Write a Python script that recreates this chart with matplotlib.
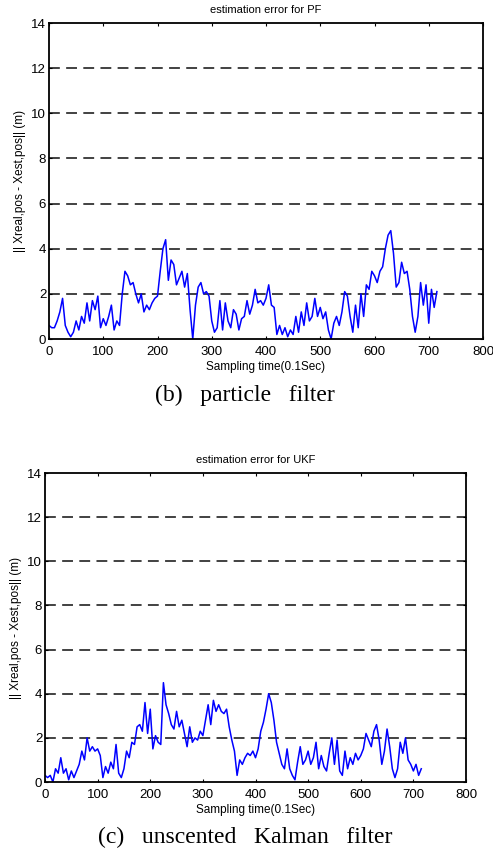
import numpy as np
import matplotlib
matplotlib.use("Agg")
import matplotlib.pyplot as plt

# sampling index (every 5 samples)
t = np.arange(0, 720, 5)

# estimation error, particle filter
err_pf = [0.6, 0.5, 0.5, 0.8, 1.2, 1.8, 0.6, 0.3, 0.1, 0.3, 0.8, 0.4, 1.0, 0.7, 1.6, 0.8,
          1.7, 1.3, 1.9, 0.5, 0.9, 0.6, 1.0, 1.5, 0.4, 0.8, 0.6, 2.0, 3.0, 2.8, 2.4, 2.5,
          2.0, 1.6, 2.0, 1.2, 1.5, 1.3, 1.6, 1.8, 1.9, 3.0, 4.0, 4.4, 2.6, 3.5, 3.3, 2.4,
          2.7, 3.0, 2.3, 2.9, 1.3, 0.0, 1.5, 2.3, 2.5, 2.0, 2.1, 1.9, 0.8, 0.3, 0.5, 1.7,
          0.4, 1.6, 0.8, 0.5, 1.3, 1.1, 0.4, 0.9, 1.0, 1.7, 1.1, 1.5, 2.2, 1.6, 1.7, 1.5,
          1.8, 2.4, 1.5, 1.4, 0.2, 0.6, 0.2, 0.5, 0.1, 0.4, 0.2, 1.0, 0.3, 1.2, 0.6, 1.6,
          0.8, 1.0, 1.8, 1.0, 1.4, 0.9, 1.2, 0.4, 0.0, 0.7, 1.0, 0.6, 1.2, 2.1, 1.9, 1.0,
          0.3, 1.5, 0.5, 2.0, 1.0, 2.4, 2.2, 3.0, 2.8, 2.5, 3.0, 3.2, 4.0, 4.6, 4.8, 3.8,
          2.3, 2.5, 3.4, 2.9, 3.0, 2.2, 1.0, 0.3, 1.0, 2.5, 1.5, 2.4, 0.7, 2.2, 1.4, 2.1]

# estimation error, unscented Kalman filter
err_ukf = [0.3, 0.2, 0.3, 0.0, 0.6, 0.4, 1.1, 0.4, 0.6, 0.1, 0.5, 0.2, 0.5, 0.8, 1.4, 1.0,
           2.0, 1.4, 1.6, 1.4, 1.5, 1.2, 0.2, 0.7, 0.4, 0.9, 0.6, 1.7, 0.4, 0.2, 0.6, 1.4,
           1.1, 1.8, 1.7, 2.5, 2.6, 2.3, 3.6, 2.2, 3.3, 1.5, 2.1, 1.8, 1.7, 4.5, 3.5, 3.1,
           2.6, 2.4, 3.2, 2.5, 2.8, 2.2, 1.6, 2.5, 1.8, 2.0, 1.9, 2.3, 2.1, 2.8, 3.5, 2.6,
           3.7, 3.2, 3.5, 3.2, 3.1, 3.3, 2.5, 1.9, 1.4, 0.3, 1.0, 0.8, 1.1, 1.3, 1.2, 1.4,
           1.1, 1.5, 2.3, 2.7, 3.3, 4.0, 3.6, 2.8, 1.8, 1.3, 0.8, 0.6, 1.5, 0.6, 0.3, 0.1,
           0.9, 1.6, 0.8, 1.0, 1.4, 0.8, 1.1, 1.8, 0.6, 1.2, 0.7, 0.5, 1.3, 2.0, 0.8, 1.9,
           0.5, 0.3, 1.4, 0.6, 1.1, 0.8, 1.3, 1.0, 1.2, 1.5, 2.2, 1.9, 1.6, 2.3, 2.6, 1.9,
           0.8, 1.4, 2.4, 1.6, 0.6, 0.2, 0.6, 1.8, 1.3, 2.0, 1.0, 0.8, 0.5, 0.8, 0.3, 0.6]

titles = ["estimation error for PF", "estimation error for UKF"]
captions = ["(b)   particle   filter", "(c)   unscented   Kalman   filter"]

plt.rcParams['font.family'] = ['Liberation Sans', 'DejaVu Sans']

W, H = 493, 855
fig = plt.figure(figsize=(W / 100, H / 100), dpi=100)

# axes boxes in pixels: left, top, right, bottom
boxes = [(49, 23, 483, 339), (45, 473, 466, 782)]
cap_y = [395, 837]

for i, (data, title) in enumerate(zip([err_pf, err_ukf], titles)):
    l, tp, r, b = boxes[i]
    ax = fig.add_axes([l / W, (H - b) / H, (r - l) / W, (b - tp) / H])
    ax.plot(t, data, color='#0000ff', lw=1.1)
    for yv in range(2, 14, 2):
        ax.axhline(yv, color='#333333', lw=1.3, ls=(0, (6, 3.5)), zorder=0)
    ax.set_xlim(0, 800)
    ax.set_ylim(0, 14)
    ax.set_xticks(range(0, 801, 100))
    ax.set_yticks(range(0, 15, 2))
    ax.tick_params(direction='in', top=True, right=True, labelsize=9.5, length=2.5)
    ax.tick_params(axis='x', pad=5)
    ax.tick_params(axis='y', pad=2)
    for s in ax.spines.values():
        s.set_linewidth(1.3)
    ax.set_title(title, fontsize=8, pad=7)
    ax.set_xlabel("Sampling time(0.1Sec)", fontsize=8.5, labelpad=2)
    ax.set_ylabel("|| Xreal,pos - Xest,pos|| (m)", fontsize=8.5, labelpad=4)
    fig.text(245 / W, 1 - cap_y[i] / H, captions[i], ha='center', va='center',
             fontsize=17, family='Liberation Serif')

plt.savefig("out.png", dpi=100)
